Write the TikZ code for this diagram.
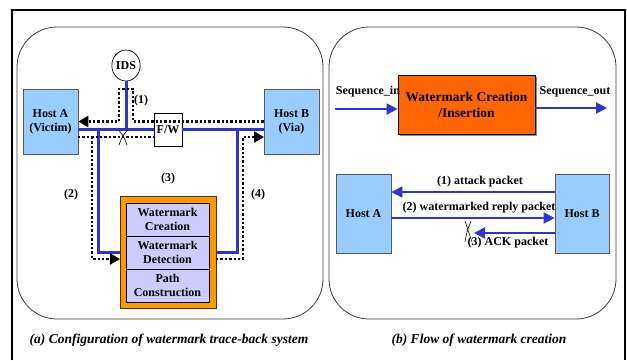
\documentclass[tikz,border=0pt]{standalone}
\usepackage{fontspec}
\setmainfont{Liberation Serif}
\usetikzlibrary{arrows.meta,shapes.geometric,calc}
\definecolor{hostblue}{RGB}{153,204,255}
\definecolor{lav}{RGB}{204,204,255}
\definecolor{orng}{RGB}{255,153,0}
\definecolor{redor}{RGB}{255,102,0}
\definecolor{netblue}{RGB}{51,51,204}
\tikzset{
  txt/.style={font=\fontsize{12}{13}\selectfont\bfseries, inner sep=0pt},
  hostbox/.style={draw={rgb,255:red,90;green,90;blue,90}, line width=0.8pt, fill=hostblue, align=center, font=\fontsize{12}{14}\selectfont\bfseries},
  lavbox/.style={draw=black, line width=0.7pt, fill=lav, align=center, minimum width=83pt, minimum height=33pt, inner sep=0pt, font=\fontsize{12}{13.5}\selectfont\bfseries},
  net/.style={draw=netblue, line width=3pt},
  flow/.style={draw=netblue, line width=2pt},
  dotline/.style={draw=black, line width=2.6pt, dash pattern=on 2.4pt off 2pt},
  dtip/.style={-{Triangle[length=10pt,width=11pt]}},
  btip/.style={-{Triangle[length=11pt,width=11pt]}},
  panel/.style={draw={rgb,255:red,60;green,60;blue,60}, line width=0.8pt, rounded corners=40pt},
  captxt/.style={font=\fontsize{13.5}{15}\selectfont\bfseries\itshape, inner sep=0pt},
  xmark/.style={draw=black, line width=0.6pt}
}
\begin{document}
\begin{tikzpicture}[x=1pt,y=-1pt]
\useasboundingbox (0,0) rectangle (627,360);
% outer frame
\draw[line width=1.6pt] (12,360) -- (12,10) -- (625,10) -- (625,360);
% panels
\draw[panel] (17,27) rectangle (323,319);
\draw[panel] (329,27) rectangle (616,319);

% ---------- panel (a) ----------
\node[hostbox, minimum width=55pt, minimum height=65pt, inner sep=0pt] (hA) at (50.5,121.5) {Host A\\(Victim)};
\node[hostbox, minimum width=55pt, minimum height=65pt, inner sep=0pt] (hB) at (291.5,121.5) {Host B\\(Via)};
\node[draw=black, line width=0.7pt, fill=white, ellipse, minimum width=28pt, minimum height=31pt, inner sep=0pt, font=\fontsize{12}{13}\selectfont\bfseries] (ids) at (126,65.5) {IDS};
\node[draw=black, line width=0.7pt, fill=white, minimum width=28pt, minimum height=33pt, inner sep=0pt, font=\fontsize{12}{13}\selectfont\bfseries] (fw) at (168,129.5) {F/W};
\node[draw={rgb,255:red,80;green,50;blue,0}, line width=0.8pt, fill=orng, minimum width=96pt, minimum height=112pt] (ob) at (168,252) {};
\node[lavbox] (l1) at (167.5,219.5) {Watermark\\Creation};
\node[lavbox] (l2) at (167.5,252.5) {Watermark\\Detection};
\node[lavbox] (l3) at (167.5,285.5) {Path\\Construction};

% blue network lines
\coordinate (bl) at (98,129.5);
\coordinate (br) at (237,129.5);
\draw[net] (hA.east |- fw.west) -- (fw.west);
\draw[net] (fw.east) -- (hB.west |- fw.east);
\draw[net] (ids.south) -- (ids.south |- fw.west);
\draw[net] (bl) |- (ob.west);
\draw[net] (br) |- (ob.east);

% dotted flows
\coordinate (p1a) at (133,121.5);
\coordinate (p1b) at (133,89);
\coordinate (p1c) at (119,89);
\coordinate (p1d) at (119,121.5);
\draw[dotline, dtip] (hB.west) -- (p1a) -- (p1b) -- (p1c) -- (p1d) -- (hA.east);
\coordinate (q0) at (78,137);
\coordinate (q1) at (154,137);
\draw[dotline] (q0) -- (q1);
\coordinate (d2) at (92,137);
\coordinate (d2e) at (120,259);
\draw[dotline, dtip] (d2) |- (d2e);
\coordinate (d4s) at (216,259);
\coordinate (d4a) at (243,259);
\coordinate (d4b) at (243,137);
\coordinate (d4e) at (264,137);
\draw[dotline, dtip] (d4s) -- (d4a) -- (d4b) -- (d4e);
% X mark
\coordinate (xa1) at (119,130.5);
\coordinate (xa2) at (127,145);
\coordinate (xa3) at (127,130.5);
\coordinate (xa4) at (119,145);
\draw[xmark] (xa1) .. controls (124,137) .. (xa2);
\draw[xmark] (xa3) .. controls (122,137) .. (xa4);

\node[txt] (n1) at (141,101) {(1)};
\node[txt] (n2) at (71,195) {(2)};
\node[txt] (n3) at (168,179) {(3)};
\node[txt] (n4) at (258,195) {(4)};

\node[captxt] (capa) at (169,340) {(a) Configuration of watermark trace-back system};

% ---------- panel (b) ----------
\fill[black!45] (400,77) rectangle (537,136);
\node[draw=black, line width=0.8pt, fill=redor, minimum width=137pt, minimum height=59pt, align=center, inner sep=0pt, font=\fontsize{13.5}{16}\selectfont\bfseries] (wm) at (466.5,104.5) {Watermark Creation\\/Insertion};
\node[txt] (sin) at (368,92) {Sequence\_in};
\node[txt] (sout) at (575,92) {Sequence\_out};
\coordinate (sa) at (335,109);
\coordinate (sb) at (607,108);
\draw[flow, btip] (sa) -- (sa -| wm.west);
\draw[flow, btip] (wm.east |- sb) -- (sb);

\node[hostbox, minimum width=55pt, minimum height=79pt, inner sep=0pt] (hA2) at (363.5,213.5) {Host A};
\node[hostbox, minimum width=54pt, minimum height=79pt, inner sep=0pt] (hB2) at (582,213.5) {Host B};
\coordinate (y1) at (480,192);
\coordinate (y2) at (480,218);
\coordinate (y3) at (474,233);
\draw[flow, btip] (hB2.west |- y1) -- (hA2.east |- y1);
\draw[flow, btip] (hA2.east |- y2) -- (hB2.west |- y2);
\draw[flow, btip] (hB2.west |- y3) -- (y3);
\coordinate (xb1) at (465,221);
\coordinate (xb2) at (472,242);
\coordinate (xb3) at (471,221);
\coordinate (xb4) at (465,242);
\draw[xmark] (xb1) .. controls (469,231) .. (xb2);
\draw[xmark] (xb3) .. controls (467,231) .. (xb4);

\node[txt] (f1) at (480,182) {(1) attack packet};
\node[txt] (f2) at (479,208) {(2) watermarked reply packet};
\node[txt] (f3) at (508,243) {(3) ACK packet};

\node[captxt] (capb) at (479,340) {(b) Flow of watermark creation};
\end{tikzpicture}
\end{document}
